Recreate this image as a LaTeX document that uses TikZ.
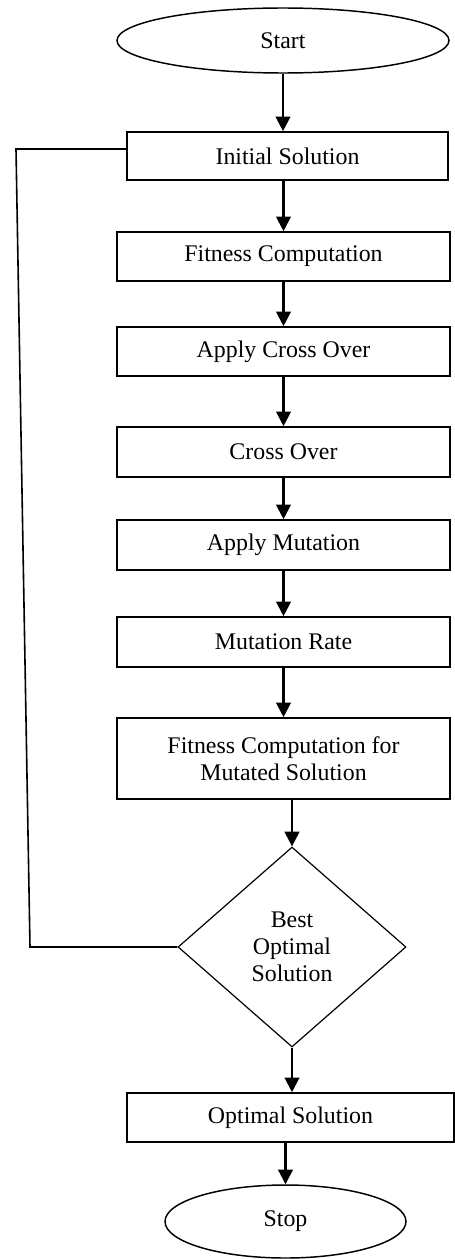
\documentclass[tikz,border=0pt]{standalone}
\usepackage{fontspec}
\setmainfont{Liberation Serif}
\usetikzlibrary{shapes.geometric,arrows.meta}

\tikzset{every picture/.style={line width=0.75pt}}

\begin{document}
\begin{tikzpicture}[x=0.75pt,y=0.75pt,yscale=-1,xscale=1,
		font=\fontsize{17.9pt}{20.3pt}\selectfont,
		procbox/.style={draw,line width=1.2pt,rectangle,inner sep=0pt,align=center,minimum width=333*0.75pt,minimum height=49*0.75pt},
		terminal/.style={draw,line width=1.1pt,ellipse,inner sep=0pt},
		decision/.style={draw,line width=0.9pt,diamond,inner sep=0pt,align=center,minimum width=228*0.75pt,minimum height=200*0.75pt},
		flow/.style={line width=1.6pt,-{Triangle[width=11pt,length=11pt]}},
		loopline/.style={line width=1.2pt}]
		%set diagram size 454 x 1259
		\useasboundingbox (0,0) rectangle (454,1259);
		
		%Terminals
		\node [terminal,minimum width=332*0.75pt,minimum height=65*0.75pt] (start) at (283,40.5) {Start};
		\node [terminal,minimum width=241*0.75pt,minimum height=73*0.75pt] (stop) at (285.5,1221.5) {Stop};
		
		%Process boxes
		\node [procbox,minimum width=321*0.75pt,minimum height=48*0.75pt] (init) at (287.5,156) {Initial Solution};
		\node [procbox] (fit) at (283.5,256.5) {Fitness Computation};
		\node [procbox] (applycx) at (283.5,351.5) {Apply Cross Over};
		\node [procbox,minimum height=50*0.75pt] (cx) at (283.5,452) {Cross Over};
		\node [procbox,minimum height=50*0.75pt] (applymut) at (283.5,545) {Apply Mutation};
		\node [procbox,minimum height=50*0.75pt] (mutrate) at (283.5,642) {Mutation Rate};
		\node [procbox,minimum height=81*0.75pt] (fitmut) at (283.5,758.5) {Fitness Computation for\\Mutated Solution};
		\node [procbox,minimum width=327*0.75pt] (optimal) at (290.5,1117.5) {Optimal Solution};
		
		%Decision
		\node [decision,aspect=1.14] (best) at (292,947) {Best\\Optimal\\Solution};
		
		%Loop back
		\coordinate (looptop) at (16,149);
		\coordinate (loopbot) at (30,947);
		
		\draw [flow] (start.south) -- (start.south |- init.north);
		\draw [flow] (init.south -| fit.north) -- (fit.north);
		\draw [flow] (fit.south) -- (applycx.north);
		\draw [flow] (applycx.south) -- (cx.north);
		\draw [flow] (cx.south) -- (applymut.north);
		\draw [flow] (applymut.south) -- (mutrate.north);
		\draw [flow] (mutrate.south) -- (fitmut.north);
		\draw [flow] (fitmut.south -| best.north) -- (best.north);
		\draw [flow] (best.south) -- (best.south |- optimal.north);
		\draw [flow] (optimal.south -| stop.north) -- (stop.north);
		
		\draw [loopline] (best.west) -- (loopbot) -- (looptop) -- (looptop -| init.west);
		
	\end{tikzpicture}
\end{document}
